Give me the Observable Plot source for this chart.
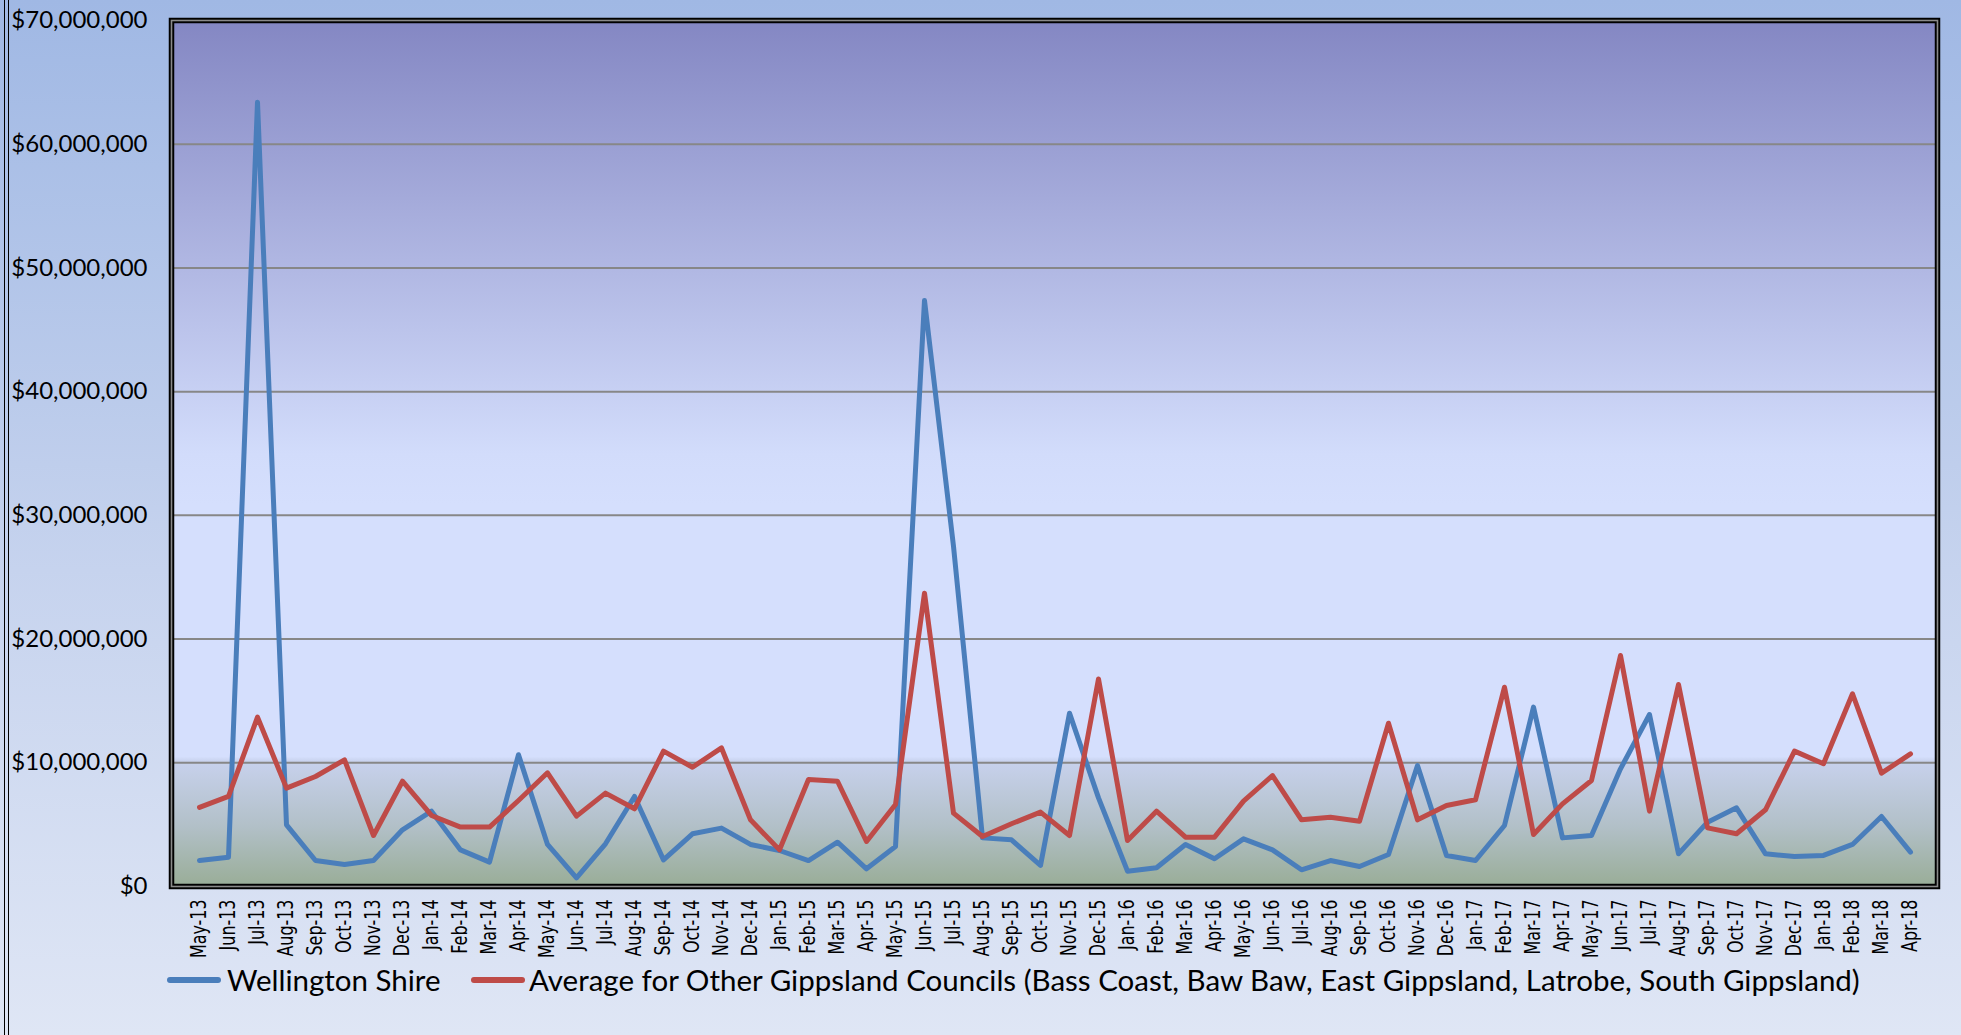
<!DOCTYPE html>
<html>
<head>
<meta charset="utf-8">
<script src="https://cdn.jsdelivr.net/npm/d3@7"></script>
<script src="https://cdn.jsdelivr.net/npm/@observablehq/plot@0.6"></script>
<style>
  html, body { margin: 0; padding: 0; }
  body {
    width: 1961px; height: 1035px; overflow: hidden; position: relative;
    background: linear-gradient(to bottom, #a0b8e4 0%, #c6d3ee 55%, #dfe6f5 100%);
    font-family: Lato, "Noto Sans", sans-serif;
  }
  #edge { position: absolute; left: 4px; top: 0; width: 3px; height: 1035px;
          border-left: 1.5px solid #000; border-right: 1.5px solid #000; }
  #chart { position: absolute; left: 0; top: 0; }
  .leg { position: absolute; top: 960px; height: 40px; line-height: 40px;
         font-size: 29.5px; color: #000; white-space: nowrap; }
  .sw { position: absolute; top: 17px; height: 6px; width: 54px; border-radius: 3px; }
</style>
</head>
<body>
<div id="edge"></div>
<div id="chart"></div>
<div id="legend"></div>
<script>
const months = ["May-13","Jun-13","Jul-13","Aug-13","Sep-13","Oct-13","Nov-13","Dec-13",
  "Jan-14","Feb-14","Mar-14","Apr-14","May-14","Jun-14","Jul-14","Aug-14","Sep-14","Oct-14","Nov-14","Dec-14",
  "Jan-15","Feb-15","Mar-15","Apr-15","May-15","Jun-15","Jul-15","Aug-15","Sep-15","Oct-15","Nov-15","Dec-15",
  "Jan-16","Feb-16","Mar-16","Apr-16","May-16","Jun-16","Jul-16","Aug-16","Sep-16","Oct-16","Nov-16","Dec-16",
  "Jan-17","Feb-17","Mar-17","Apr-17","May-17","Jun-17","Jul-17","Aug-17","Sep-17","Oct-17","Nov-17","Dec-17",
  "Jan-18","Feb-18","Mar-18","Apr-18"];

const wellington = [2100000,2370000,63400000,4980000,2100000,1780000,2100000,4580000,
  6090000,2960000,1970000,10650000,3400000,700000,3450000,7280000,2150000,4260000,4720000,3400000,
  2910000,2100000,3580000,1430000,3230000,47370000,27500000,3930000,3770000,1700000,14010000,7160000,
  1240000,1510000,3400000,2240000,3850000,2960000,1350000,2100000,1620000,2590000,9780000,2510000,
  2100000,4930000,14500000,3930000,4120000,9510000,13900000,2640000,5200000,6360000,2640000,2430000,
  2510000,3400000,5660000,2780000];

const average = [6400000,7280000,13690000,7950000,8890000,10240000,4120000,8510000,
  5740000,4800000,4800000,6950000,9190000,5690000,7550000,6280000,10940000,9640000,11200000,5390000,
  2960000,8650000,8510000,3640000,6630000,23710000,5930000,4040000,5070000,6010000,4120000,16780000,
  3720000,6090000,3990000,3990000,6900000,8970000,5390000,5600000,5280000,13200000,5390000,6550000,
  7010000,16110000,4200000,6680000,8570000,18670000,6090000,16330000,4740000,4260000,6200000,10940000,
  9920000,15580000,9160000,10720000];

const seriesNames = ["Wellington Shire",
  "Average for Other Gippsland Councils (Bass Coast, Baw Baw, East Gippsland, Latrobe, South Gippsland)"];
const seriesColors = ["#4a7ebb", "#be4b48"];
const yTicks = [0,10000000,20000000,30000000,40000000,50000000,60000000,70000000];
const gridTicks = [10000000,20000000,30000000,40000000,50000000,60000000];

const rows = months.flatMap((m, i) => [
  {month: m, value: wellington[i], series: seriesNames[0]},
  {month: m, value: average[i], series: seriesNames[1]}
]);

const fmt = d => "$" + d3.format(",")(d);

const chart = Plot.plot({
  width: 1961,
  height: 958,
  marginLeft: 171,
  marginRight: 24,
  marginTop: 20,
  marginBottom: 72,
  style: {background: "transparent", overflow: "visible"},
  x: {type: "point", domain: months, padding: 0.5, label: null},
  y: {domain: [0, 70000000], label: null},
  color: {domain: seriesNames, range: seriesColors},
  marks: [
    Plot.frame({fill: "url(#plotbg)", stroke: "none"}),
    Plot.ruleY(gridTicks, {stroke: "#878787", strokeWidth: 2}),
    Plot.line(rows.filter(d => d.series === seriesNames[0]),
      {x: "month", y: "value", stroke: "series", strokeWidth: 5, strokeLinejoin: "round", strokeLinecap: "round"}),
    Plot.line(rows.filter(d => d.series === seriesNames[1]),
      {x: "month", y: "value", stroke: "series", strokeWidth: 5, strokeLinejoin: "round", strokeLinecap: "round"}),
    Plot.frame({stroke: "#000", strokeWidth: 5.5}),
    Plot.frame({stroke: "#8a8a8a", strokeWidth: 1.6}),
    Plot.axisY({ticks: yTicks, tickFormat: fmt, tickSize: 0, tickPadding: 24, label: null,
      fontSize: 24, fontFamily: "Lato", fill: "#000"}),
    Plot.axisX({tickRotate: -90, tickSize: 0, tickPadding: 13, label: null,
      fontSize: 21.5, fontFamily: "DejaVu Sans", fill: "#000"})
  ]
});

const ns = "http://www.w3.org/2000/svg";
const defs = document.createElementNS(ns, "defs");
defs.innerHTML = `<linearGradient id="plotbg" x1="0" y1="0" x2="0" y2="1">
  <stop offset="0" stop-color="#8487c3"/>
  <stop offset="0.5" stop-color="#d2dcfb"/>
  <stop offset="0.56" stop-color="#d5dffd"/>
  <stop offset="0.85" stop-color="#d5dffd"/>
  <stop offset="0.856" stop-color="#c7d1ec"/>
  <stop offset="0.93" stop-color="#b2c0c8"/>
  <stop offset="1" stop-color="#99ad97"/>
</linearGradient>`;
chart.insertBefore(defs, chart.firstChild);
document.getElementById("chart").appendChild(chart);

// condense rotated month labels to match the narrow face of the original
chart.querySelectorAll('g[aria-label="x-axis tick label"] text').forEach(t => {
  const len = t.getComputedTextLength();
  if (len > 0) {
    t.setAttribute("textLength", (len * 0.74).toFixed(1));
    t.setAttribute("lengthAdjust", "spacingAndGlyphs");
  }
});

const legend = document.getElementById("legend");
const legPos = [{sw: 167, tx: 227}, {sw: 471, tx: 529}];
seriesNames.forEach((name, i) => {
  const sw = document.createElement("div");
  sw.className = "leg";
  sw.style.left = legPos[i].sw + "px";
  sw.innerHTML = `<div class="sw" style="background:${seriesColors[i]}"></div>`;
  legend.appendChild(sw);
  const tx = document.createElement("div");
  tx.className = "leg";
  tx.style.left = legPos[i].tx + "px";
  tx.textContent = name;
  legend.appendChild(tx);
});
</script>
</body>
</html>
